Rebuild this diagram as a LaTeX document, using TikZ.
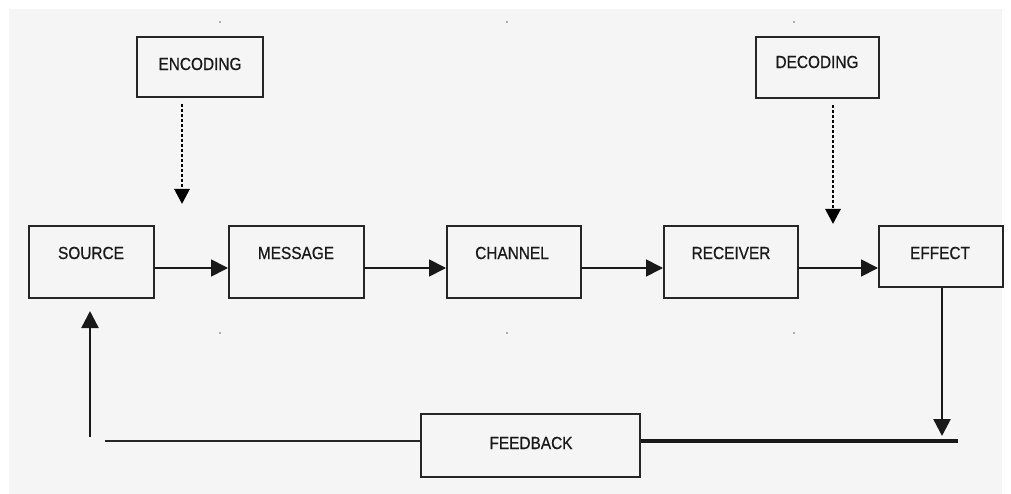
\documentclass[tikz,border=0pt]{standalone}
\usepackage{fontspec}
\setmainfont{Liberation Sans}
\newfontfamily\lblfont[FakeStretch=0.88,FakeBold=0.6]{Liberation Sans}
\usetikzlibrary{arrows.meta}
\begin{document}
\begin{tikzpicture}[x=1pt,y=-1pt,
  blk/.style={draw=black!85,line width=2pt,fill=none,inner sep=0pt},
  lbl/.style={font=\lblfont\fontsize{17.5}{17.5}\selectfont,text=black!90,inner sep=0pt},
  arr/.style={line width=1.8pt,draw=black!90,-{Triangle[length=17pt,width=17pt]}},
  dotarr/.style={line width=2.8pt,draw=black,dash pattern=on 3pt off 2pt,-{Triangle[length=15pt,width=15pt]}}]
\useasboundingbox (0,0) rectangle (1011,494);
\fill[white] (0,0) rectangle (1011,494);
\fill[black!4] (9,9) rectangle (1002,494);
% tiny dots
\foreach \px in {220,507,794}{\fill[black!60] (\px,22) circle (0.9pt); \fill[black!60] (\px,333) circle (0.9pt);}
% boxes
\node[blk,minimum width=126pt,minimum height=60pt] (enc) at (200,67) {};
\node[blk,minimum width=123pt,minimum height=61pt] (dec) at (817.5,67.5) {};
\node[blk,minimum width=125pt,minimum height=72pt] (src) at (91.5,262) {};
\node[blk,minimum width=135pt,minimum height=72pt] (msg) at (296.5,262) {};
\node[blk,minimum width=134pt,minimum height=72pt] (chn) at (514,262) {};
\node[blk,minimum width=134pt,minimum height=72pt] (rcv) at (731,262) {};
\node[blk,minimum width=124pt,minimum height=61pt] (eff) at (941,256.5) {};
\node[blk,minimum width=219pt,minimum height=63pt] (fb) at (530.5,445.5) {};
% labels
\node[lbl] at (200,64) {ENCODING};
\node[lbl] at (817,62) {DECODING};
\node[lbl] at (91,253) {SOURCE};
\node[lbl] at (296,253) {MESSAGE};
\node[lbl] at (512,253) {CHANNEL};
\node[lbl] at (731,253) {RECEIVER};
\node[lbl] at (940,253) {EFFECT};
\node[lbl] at (531,443) {FEEDBACK};
% main arrows
\draw[arr] (src.east |- 0,268) -- (msg.west |- 0,268);
\draw[arr] (msg.east |- 0,268) -- (chn.west |- 0,268);
\draw[arr] (chn.east |- 0,268) -- (rcv.west |- 0,268);
\draw[arr] (rcv.east |- 0,268) -- (eff.west |- 0,268);
% dotted arrows
\coordinate (encend) at (182,204);
\coordinate (decend) at (833,224);
\draw[dotarr] (enc.south -| encend) ++(0,6) -- (encend);
\draw[dotarr] (dec.south -| decend) ++(0,6) -- (decend);
% feedback loop
\coordinate (fr) at (958,441);
\coordinate (fl) at (105,441);
\coordinate (upbot) at (90,437);
\coordinate (uptop) at (90,311);
\draw[line width=3.2pt,draw=black!90] (fb.east |- fr) -- (fr);
\draw[line width=2.2pt,draw=black!85] (fb.west |- fl) -- (fl);
\draw[arr,line width=2.6pt] (eff.south -| 942,0) -- (942,436);
\draw[arr,line width=2.4pt] (upbot) -- (uptop);
\end{tikzpicture}
\end{document}
